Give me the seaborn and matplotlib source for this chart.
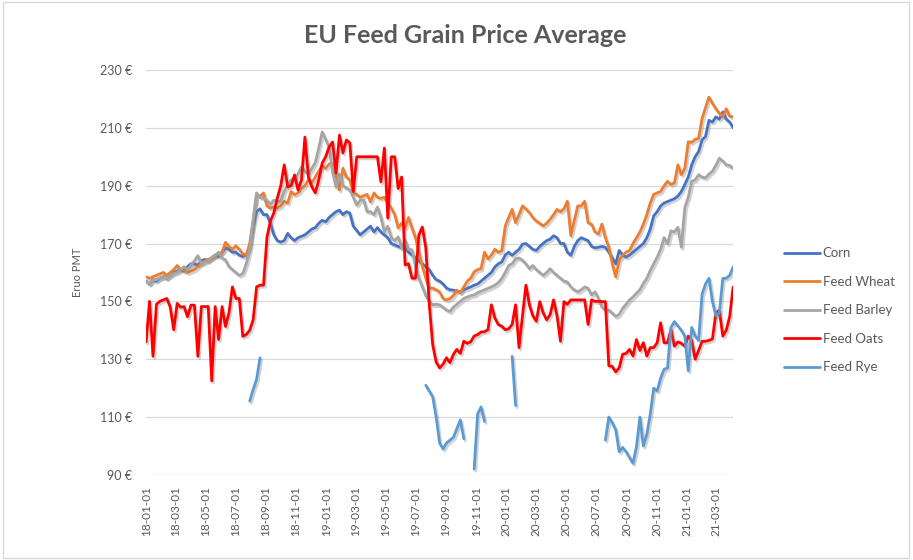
import numpy as np
import pandas as pd
import matplotlib
matplotlib.use("Agg")
import matplotlib.pyplot as plt
import matplotlib.dates as mdates
import matplotlib.patheffects as pe
from matplotlib.lines import Line2D
from matplotlib.patches import Rectangle
import seaborn as sns

# weekly prices, EUR per tonne, starting 2018-01-01
START = "2018-01-01"
nan = np.nan

corn = [
    157, 156, 157.5, 157, 158, 158.5, 158, 159, 160, 160.5,
    161, 160.5, 162, 163, 163, 162.5, 164, 164.5, 164, 165,
    166, 165.5, 167, 168.5, 168, 167, 167, 166, 165.5, 166,
    169, 176, 181, 182, 180, 180, 177, 173, 171, 170.5,
    171, 173.5, 172, 171, 172, 172.5, 173, 174, 175, 175.5,
    177, 178, 177.5, 179, 180, 181, 181.5, 180, 181, 180.5,
    176, 174.5, 173, 174, 175, 176, 174, 175.5, 174, 173,
    172, 170, 169.5, 169, 168.5, 168.5, 167, 166, 165, 164,
    163, 162, 161, 159, 157.5, 157, 156, 154.6, 154, 153.9,
    153.5, 153.3, 154, 154.5, 155, 155.6, 156, 157, 158, 159,
    160, 161.9, 163, 163.6, 166, 167, 165.9, 167, 168, 169.8,
    170, 169, 168, 167.6, 169, 170, 171, 171.5, 172.7, 172,
    170, 170, 167, 165.9, 169, 171, 172, 171.5, 171, 169,
    168.5, 168.7, 169, 168.7, 167, 165, 163, 167.6, 166, 165.3,
    166, 167, 168, 169, 170, 172, 175, 179.6, 181, 183,
    184, 184.5, 185, 185.5, 186.4, 188, 190.4, 193, 197.2, 200,
    201.8, 205.8, 207, 212.6, 212, 213.8, 213, 215.5, 213, 212, 210,
]

feed_wheat = [
    158.5, 158, 158.5, 159, 159.5, 160, 159, 160, 161, 162.4,
    161, 160.7, 160, 160.5, 161, 162, 163, 164, 164.6, 165,
    165.5, 166.4, 167, 170.4, 169, 168, 169.2, 168, 166.5, 165.8,
    170, 178, 187, 186.3, 187.5, 183, 182.3, 182.6, 182.3, 183,
    184.6, 184, 188, 186.9, 187.5, 189, 190, 192, 191, 193,
    195, 197, 196, 197.5, 197.7, 193.7, 188.5, 196, 193, 192,
    187.5, 187, 186, 186.5, 187, 184.4, 187.5, 186, 185.6, 186,
    184, 182.3, 180, 175.4, 177, 175.4, 179, 175.4, 172, 167,
    162, 158, 154.6, 154.6, 154, 153.3, 151, 150.5, 151, 152,
    153.9, 153, 155, 157, 158, 160.2, 161, 161.3, 167, 164.7,
    166, 168, 167, 167.5, 176, 179, 181.8, 177.2, 180, 183,
    182, 180.7, 179, 177.8, 177, 176.1, 177, 178.4, 180, 181.8,
    181, 182, 184.6, 172.7, 178, 183, 183, 184.6, 177.2, 176.7,
    174, 173.3, 176.7, 172, 168.7, 163, 158.5, 164.2, 166, 167,
    167.6, 170, 172, 174, 176.7, 180, 184, 187, 187.5, 188,
    190, 191.5, 190.4, 191, 197.2, 193.8, 196, 205.2, 205, 206,
    206.4, 213.2, 217, 220.6, 218.5, 216.6, 215, 213.8, 216.6, 214, 213.8,
]

feed_barley = [
    157, 156, 157.5, 157.5, 158, 158.5, 158, 159, 159.6, 160,
    161, 162, 161, 162.5, 164, 165.8, 163, 163.5, 164, 165.2,
    166, 167, 165, 164.3, 162, 161, 160, 159, 159.6, 163,
    167.6, 178, 187.5, 186, 185.7, 185, 183.5, 185, 184.6, 184.6,
    188, 190.3, 192, 192.6, 194, 196.5, 195, 194, 196, 198,
    203, 208.6, 206, 203.4, 194.7, 189.5, 194, 190, 189.2, 188.5,
    186, 183.3, 185, 185, 181, 181, 180, 182.6, 179, 174,
    176, 172, 171, 172.3, 168.5, 171.2, 168, 167.8, 162, 158,
    155, 152, 150, 148.8, 149, 148.8, 148, 147, 146.5, 148,
    149, 150, 151, 151.5, 152, 152.2, 153, 153.5, 154, 154.5,
    155, 155.6, 156.5, 157.9, 160, 162.4, 163, 164.7, 165, 164.2,
    163, 161.3, 162.4, 161, 160, 159, 160, 161.3, 160, 159,
    158, 157, 156.7, 155, 154, 153.3, 154, 155, 154.5, 152.2,
    153.3, 151, 148, 147, 147, 146, 144.8, 145.5, 147.6, 149,
    150.5, 151.5, 152.8, 154, 156.2, 158, 160.7, 163, 165.3, 168,
    172.1, 169.9, 174.4, 174, 175.6, 168.7, 182.4, 186, 191.5, 192,
    193.8, 193, 192.7, 194, 195, 197, 199.5, 198.5, 197.2, 197, 196,
]

feed_oats = [
    136, 150, 131, 149, 150, 150.5, 151, 148, 140.2, 149.3,
    148, 148.2, 144.7, 148.7, 148.7, 131, 148.2, 148.2, 148.2, 122.5,
    148.2, 136.8, 148.2, 141.3, 146, 155, 151, 151, 137.9, 138.5,
    140, 143.6, 155, 155.6, 155.6, 172.1, 177.8, 180.6, 185.7, 190,
    197.2, 189.6, 190, 193.7, 188.5, 192, 206.8, 193, 189.6, 187.5,
    192, 197.8, 200, 203.4, 205.1, 194.4, 207.5, 201.3, 205.8, 204.8,
    188, 200, 200, 200, 200, 200, 200, 200, 191.3, 203,
    178.8, 200, 200, 189, 193, 162.6, 163, 158, 158, 173,
    175.7, 168.5, 149, 135, 129, 127, 128.3, 130.5, 128.8, 131.7,
    133.4, 132, 136.2, 135.5, 136, 138, 138.5, 139.4, 139.5, 140.2,
    148.8, 144.2, 142, 141.4, 140.2, 140.5, 142, 148.8, 134, 145,
    155.6, 148.8, 145, 143.1, 149.9, 146, 143.6, 145.4, 150.5, 145,
    136.2, 149.9, 149, 150.5, 150.5, 150.5, 150.5, 150.5, 142, 150.5,
    150, 150, 149.9, 149.9, 127.7, 127.5, 125.6, 127, 131.7, 132,
    133.4, 131.1, 136.8, 133, 135.7, 131.1, 134, 134, 135.7, 142.6,
    135.7, 135.7, 140.3, 134.5, 136, 135.5, 134.5, 138, 136.5, 130,
    133, 136.2, 136.2, 136.5, 137, 145.9, 147, 138, 140, 144.8, 155,
]

# rye has gaps in the reporting
feed_rye = (
    [nan] * 30
    + [115.5, 119.5, 123, 130.5]
    + [nan] * 47
    + [121, 119, 117, 110, 101, 99, 101, 102, 103, 106, 109, 102.5]
    + [nan] * 2
    + [92, 111, 113.5, 108.5]
    + [nan] * 7
    + [131, 114]
    + [nan] * 25
    + [102, 110, 108, 105.6, 98, 99.5, 98, 96, 94, 99.7,
       110, 100, 104, 111, 120, 119, 123.5, 126.5, 127, 141,
       143, 141.5, 140, 138, 126, 141, 138, 136.5, 152.5, 156,
       158, 150, 145, 146, 157.9, 158, 159, 161.9]
)

series_names = ["Corn", "Feed Wheat", "Feed Barley", "Feed Oats", "Feed Rye"]
series_colors = ["#4472C4", "#ED7D31", "#A5A5A5", "#FF0000", "#5B9BD5"]
y_ticks = [90, 110, 130, 150, 170, 190, 210, 230]

dates = pd.date_range(START, periods=len(corn), freq="7D")
df = pd.DataFrame({
    "date": dates,
    "Corn": corn,
    "Feed Wheat": feed_wheat,
    "Feed Barley": feed_barley,
    "Feed Oats": feed_oats,
    "Feed Rye": feed_rye,
})

sns.set_theme(style="white")
plt.rcParams["font.family"] = ["Lato", "DejaVu Sans"]

TEXT = "#595959"
GRID = "#D9D9D9"

fig = plt.figure(figsize=(9.13, 5.6), dpi=100)
ax = fig.add_axes([0.160, 0.152, 0.643, 0.723])

shadow = [pe.SimpleLineShadow(offset=(1.2, -1.5), shadow_color="#7f7f7f", alpha=0.35),
          pe.Normal()]

for name, color in zip(series_names, series_colors):
    sub = df[["date", name]].copy()
    # split at missing values so gaps stay open
    sub["seg"] = sub[name].isna().cumsum()
    sub = sub.dropna()
    for _, part in sub.groupby("seg"):
        sns.lineplot(data=part, x="date", y=name, ax=ax, color=color,
                     linewidth=2.0, legend=False)

for ln in ax.get_lines():
    ln.set_path_effects(shadow)
    ln.set_solid_joinstyle("round")

ax.set_ylim(90, 230)
ax.set_xlim(dates[0], dates[-1])
ax.set_yticks(y_ticks)
ax.set_yticklabels([f"{v} €" for v in y_ticks])
ax.yaxis.grid(True, color=GRID, linewidth=0.9)
ax.xaxis.grid(False)
ax.set_axisbelow(True)
for s in ax.spines.values():
    s.set_visible(False)

ax.xaxis.set_major_locator(mdates.MonthLocator(bymonth=[1, 3, 5, 7, 9, 11]))
ax.xaxis.set_major_formatter(mdates.DateFormatter("%y-%m-%d"))
ax.tick_params(axis="x", rotation=90, labelsize=8.5, labelcolor=TEXT, length=0, pad=8)
ax.tick_params(axis="y", labelsize=9, labelcolor=TEXT, length=0, pad=10)

ax.set_xlabel("")
ax.set_ylabel("Eruo PMT", fontsize=8, color=TEXT)
ax.yaxis.set_label_coords(-0.108, 0.5)

fig.suptitle("EU Feed Grain Price Average", x=0.51, y=0.958, fontsize=18,
             fontweight="bold", color=TEXT)

handles = [Line2D([0], [0], color=c, linewidth=2.0) for c in series_colors]
fig.legend(handles, series_names, loc="center left",
           bbox_to_anchor=(0.846, 0.446), frameon=False, fontsize=9.5,
           labelcolor=TEXT, handlelength=2.7, handletextpad=0.2,
           labelspacing=1.25)

fig.patches.append(Rectangle((0.003, 0.004), 0.993, 0.992, transform=fig.transFigure,
                             fill=False, edgecolor=GRID, linewidth=1.0))

fig.savefig("out.png", dpi=100)
